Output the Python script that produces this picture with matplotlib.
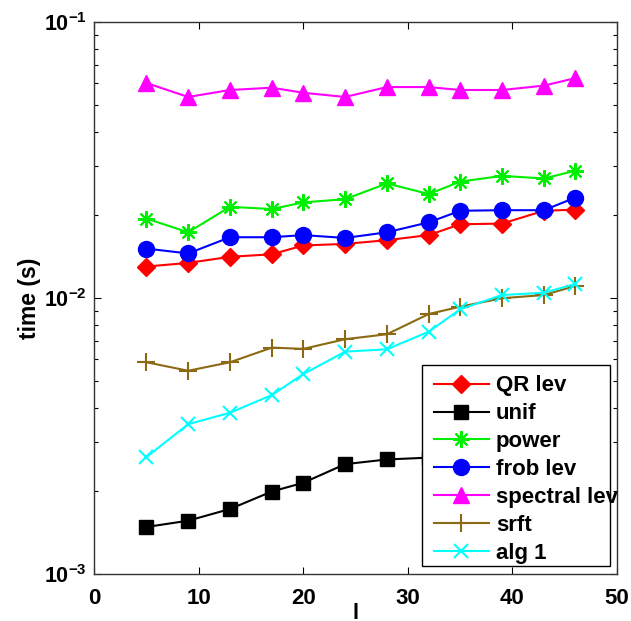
import matplotlib
matplotlib.use("Agg")
import matplotlib.pyplot as plt
from matplotlib.patches import Rectangle
from matplotlib.ticker import LogLocator, NullFormatter, FixedLocator

plt.rcParams["font.family"] = ["Liberation Sans", "DejaVu Sans"]
plt.rcParams["font.weight"] = "bold"
plt.rcParams["mathtext.fontset"] = "custom"
plt.rcParams["mathtext.rm"] = "Liberation Sans:bold"
plt.rcParams["mathtext.bf"] = "Liberation Sans:bold"
plt.rcParams["mathtext.default"] = "bf"

# sketch size l
l_vals = [5, 9, 13, 17, 20, 24, 28, 32, 35, 39, 43, 46]

# running time (s) of each method
qr_lev = [0.0130, 0.0134, 0.0141, 0.0144, 0.0155, 0.0157, 0.0162, 0.0169, 0.0185, 0.0186, 0.0207, 0.0209]
unif = [0.00148, 0.00156, 0.00172, 0.00199, 0.00214, 0.00250, 0.00260, 0.00264, 0.00270, 0.00290, 0.00300, 0.00320]
power = [0.0194, 0.0173, 0.0214, 0.0210, 0.0222, 0.0228, 0.0260, 0.0238, 0.0264, 0.0277, 0.0271, 0.0289]
frob_lev = [0.0151, 0.0145, 0.0166, 0.0166, 0.0169, 0.0165, 0.0173, 0.0188, 0.0207, 0.0208, 0.0208, 0.0231]
spectral_lev = [0.0601, 0.0535, 0.0567, 0.0578, 0.0554, 0.0535, 0.0581, 0.0581, 0.0567, 0.0567, 0.0588, 0.0626]
srft = [0.00585, 0.00545, 0.00585, 0.00661, 0.00654, 0.00709, 0.00739, 0.00875, 0.00930, 0.00998, 0.01025, 0.01105]
alg1 = [0.00265, 0.00349, 0.00384, 0.00445, 0.00530, 0.00639, 0.00652, 0.00755, 0.00910, 0.01025, 0.01045, 0.01124]

labels = ["QR lev", "unif", "power", "frob lev", "spectral lev", "srft", "alg 1"]
x_ticks = [0, 10, 20, 30, 40, 50]
y_ticks = [1e-3, 1e-2, 1e-1]
y_ticklabels = [r"$10^{-3}$", r"$10^{-2}$", r"$10^{-1}$"]

fig = plt.figure(figsize=(6.31, 6.21), dpi=100)
ax = fig.add_axes([0.149, 0.0757, 0.829, 0.8889])

lw = 1.5
series = [
    (qr_lev, dict(color="#ff0000", marker="D", ms=9.5, mew=1)),
    (unif, dict(color="#000000", marker="s", ms=9.5, mew=1)),
    (power, dict(color="#00ee00", marker=(8, 2, 0), ms=12, mew=1.5)),
    (frob_lev, dict(color="#0000ff", marker="o", ms=11.5, mew=1)),
    (spectral_lev, dict(color="#ff00ff", marker="^", ms=12, mew=1)),
    (srft, dict(color="#8c6a14", marker="+", ms=13, mew=1.5)),
    (alg1, dict(color="#00ffff", marker="x", ms=10, mew=1.5)),
]
handles = []
for (vals, style), lab in zip(series, labels):
    h, = ax.plot(l_vals, vals, lw=lw, label=lab, **style)
    handles.append(h)

ax.set_yscale("log")
ax.set_xlim(0, 50)
ax.set_ylim(1e-3, 1e-1)
ax.xaxis.set_major_locator(FixedLocator(x_ticks))
ax.set_xticklabels([str(t) for t in x_ticks])
ax.set_yticks(y_ticks)
ax.set_yticklabels(y_ticklabels)
ax.yaxis.set_minor_locator(LogLocator(base=10, subs=range(2, 10)))
ax.yaxis.set_minor_formatter(NullFormatter())

ax.tick_params(which="both", direction="in", top=True, right=True, labelsize=16)
ax.tick_params(axis="y", labelsize=15.5)
ax.tick_params(which="major", length=5, width=0.8)
ax.tick_params(which="minor", length=3, width=0.8)
ax.tick_params(axis="x", pad=10)
ax.tick_params(axis="y", pad=5)
for s in ax.spines.values():
    s.set_linewidth(1.0)
    s.set_color("#333333")

ax.set_ylabel("time (s)", fontsize=16.5, fontweight="bold")
ax.yaxis.set_label_coords(-0.101, 0.5)
ax.set_xlabel("l", fontsize=16, fontweight="bold", labelpad=-4)

# legend box drawn as a plain rectangle so the text may run past its edge
ax.add_patch(Rectangle((0.627, 0.0145), 0.3596, 0.3641, transform=ax.transAxes,
                       facecolor="white", edgecolor="black", lw=1.0, zorder=4))
leg = ax.legend(handles=handles, loc="upper left", bbox_to_anchor=(0.633, 0.375),
                frameon=False, fontsize=16, handlelength=2.48, handletextpad=0.32,
                labelspacing=0.31, borderpad=0.38, borderaxespad=0)
leg.set_zorder(5)

fig.savefig("out.png", dpi=100)
